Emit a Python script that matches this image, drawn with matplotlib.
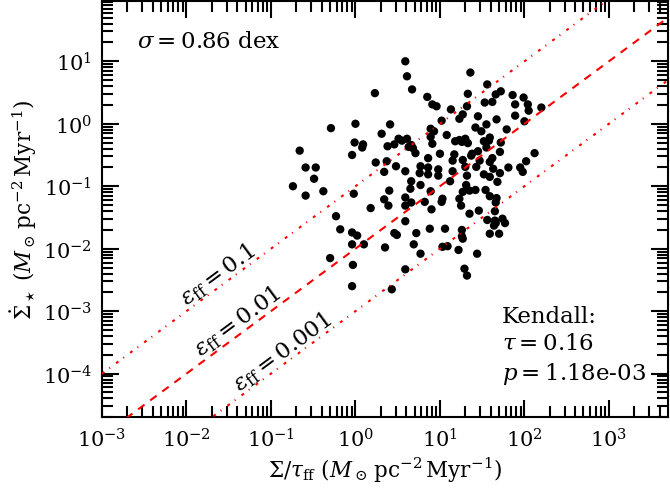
import numpy as np
import matplotlib
matplotlib.use('Agg')
import matplotlib.pyplot as plt
from matplotlib import ticker

plt.rcParams['font.family'] = 'DejaVu Serif'
plt.rcParams['mathtext.fontset'] = 'dejavuserif'

# log10 of Sigma/tau_ff and Sigma_dot_star for every region
log_sigma_tff = [
    0.23, -0.29, 0.00, -0.01, 0.09, 0.08, -0.04, 0.24, -0.66, -0.59,
    -0.47, -0.49, -0.74, -0.59, -0.38, -0.02, 0.18, -0.23, -0.18, -0.04,
    0.02, -0.04, 0.10, -0.30, -0.03, -0.04,
    0.59, 0.61, 0.67, 1.36, 0.85, 0.91, 0.96, 1.33, 1.13, 1.27,
    1.23, 1.32, 1.45, 0.41, 1.02, 0.31, 0.89, 0.93, 1.08, 1.42,
    0.51, 0.55, 0.61, 0.46, 0.38, 0.66, 0.63, 0.68, 0.89, 0.91,
    1.18, 1.23, 1.30, 1.33, 1.26, 0.71, 1.00, 1.17, 1.15, 1.27,
    1.38, 1.37, 1.45, 0.86, 0.37, 0.48, 0.34, 0.59, 0.77, 0.86,
    0.76, 0.86, 0.98, 0.98, 1.15, 1.30, 1.32, 1.43, 1.49, 1.52, 1.52,
    1.56, 1.72, 1.66, 1.53, 1.62, 1.86, 1.99, 1.89, 2.04, 2.05,
    2.20, 1.89, 1.67, 2.00, 1.55, 1.79, 1.59, 1.58, 1.72, 1.55,
    1.71, 2.12, 2.02, 1.62, 1.59, 1.47, 1.81, 1.95, 1.98, 1.63, 1.71,
    0.40, 0.65, 0.66, 0.77, 0.34, 0.39, 0.59, 0.59, 0.66, 0.82,
    0.89, 0.90, 1.03, 1.02, 1.12, 1.31, 1.27, 1.35, 1.42, 1.25,
    1.23, 1.35, 1.46, 0.59, 0.46, 0.49, 0.72, 0.88, 1.06, 1.26,
    1.26, 1.27, 0.35, 0.69, 1.03, 1.09, 1.22, 0.77, 1.44, 0.59,
    1.29, 1.32, 0.43,
    1.59, 1.68, 1.54, 1.59, 1.67, 1.66, 1.65, 1.56, 1.65, 1.66,
    1.64, 1.74, 1.77, 1.59, 1.70,
]
log_sfr = [
    0.49, -0.07, 0.00, -0.30, -0.33, -0.38, -0.50, -0.62, -0.43, -0.70,
    -0.70, -0.88, -1.00, -1.15, -1.08, -1.12, -1.35, -1.48, -1.69, -1.74,
    -1.79, -1.93, -1.93, -2.15, -2.26, -2.60,
    1.00, 0.76, 0.55, 0.82, 0.43, 0.31, 0.28, 0.48, 0.23, 0.15,
    0.08, 0.28, 0.12, -0.01, 0.05, -0.16, -0.08, -0.12, -0.18, -0.06,
    -0.24, -0.27, -0.24, -0.33, -0.36, -0.34, -0.37, -0.39, -0.21, -0.32,
    -0.28, -0.26, -0.24, -0.31, -0.29, -0.47, -0.48, -0.49, -0.59, -0.58,
    -0.48, -0.51, -0.44, -0.55, -0.60, -0.68, -0.77, -0.76, -0.68, -0.70,
    -0.79, -0.81, -0.73, -0.83, -0.76, -0.69, -0.83, -0.69, -0.12, -0.28, -0.81,
    0.63, 0.52, 0.47, 0.34, 0.35, 0.46, 0.42, 0.31, 0.31, 0.21,
    0.26, 0.13, 0.07, 0.04, -0.01, -0.09, -0.22, -0.27, -0.30, -0.38,
    -0.45, -0.47, -0.60, -0.55, -0.61, -0.59, -0.70, -0.70, -0.77, -0.72, -0.79,
    -1.07, -1.04, -0.92, -0.98, -1.21, -1.31, -1.18, -1.31, -1.26, -1.25,
    -1.08, -1.37, -1.20, -1.25, -0.92, -0.98, -1.09, -1.07, -1.06, -1.31,
    -1.20, -1.44, -1.39, -1.56, -1.75, -1.78, -1.75, -1.68, -1.68, -1.70,
    -1.80, -1.84, -1.98, -1.93, -1.97, -1.96, -2.02, -2.08, -2.08, -2.33,
    -2.32, -2.43, -2.65,
    -0.85, -0.93, -1.06, -1.16, -1.19, -1.26, -1.40, -1.54, -1.55, -1.59,
    -1.63, -1.52, -1.59, -1.76, -1.76,
]

eff_values = [0.1, 0.01, 0.001]
eff_labels = ['0.1', '0.01', '0.001']
sigma_dex = 0.86
kendall_tau = 0.16
kendall_p = '1.18e-03'

x = 10 ** np.array(log_sigma_tff)
y = 10 ** np.array(log_sfr)

fig = plt.figure(figsize=(6.7, 4.89), dpi=100)
ax = fig.add_axes([0.1522, 0.1446, 0.8448, 0.8523])

ax.set_xscale('log')
ax.set_yscale('log')
xlim = (1e-3, 5e3)
ylim = (2e-5, 94)
ax.set_xlim(xlim)
ax.set_ylim(ylim)

ax.scatter(x, y, s=36, c='k', edgecolors='none', zorder=2)

# constant efficiency per free-fall time lines
xx = np.logspace(np.log10(xlim[0]), np.log10(xlim[1]), 50)
styles = [(0, (1.4, 2.9, 0.5, 3.6)), (0, (3.8, 3.4)), (0, (1.4, 2.9, 0.5, 3.6))]
for eff, ls in zip(eff_values, styles):
    ax.plot(xx, eff * xx, color='r', lw=1.5, linestyle=ls, zorder=3)

# labels along the lines (slope on screen ~36.5 deg)
label_pos = [(10 ** -1.63, 10 ** -2.40), (10 ** -1.39, 10 ** -3.15), (10 ** -0.86, 10 ** -3.65)]
for (lx, ly), lab in zip(label_pos, eff_labels):
    ax.text(lx, ly, r'$\epsilon_{\rm ff} = %s$' % lab, rotation=36.5, rotation_mode='anchor',
            ha='center', va='center', fontsize=16.5)

ax.text(0.062, 0.888, r'$\sigma = %.2f\ \rm dex$' % sigma_dex,
        transform=ax.transAxes, fontsize=16.5, ha='left', va='baseline')

ax.text(0.707, 0.075, 'Kendall:\n' + r'$\tau = %.2f$' % kendall_tau + '\n' + r'$p = $' + kendall_p,
        transform=ax.transAxes, fontsize=16.5, ha='left', va='bottom', linespacing=1.3)

ax.set_xlabel(r'$\Sigma/\tau_{\rm ff}\ (M_\odot\,{\rm pc}^{-2}\,{\rm Myr}^{-1})$', fontsize=15.5, labelpad=3)
ax.set_ylabel(r'$\dot{\Sigma}_\star\ (M_\odot\,{\rm pc}^{-2}\,{\rm Myr}^{-1})$', fontsize=15.5, labelpad=3)

for side in ax.spines.values():
    side.set_linewidth(1.5)
ax.tick_params(which='both', direction='in', top=True, right=True, width=1.5, labelsize=15, pad=7)
ax.tick_params(which='major', length=12)
ax.tick_params(which='minor', length=8)

# only ticks inside the view
xmaj = [10.0 ** k for k in range(-3, 4)]
ymaj = [10.0 ** k for k in range(-4, 2)]
xmin = [m * 10.0 ** k for k in range(-3, 4) for m in range(2, 10) if m * 10.0 ** k < xlim[1]]
ymin = [m * 10.0 ** k for k in range(-5, 2) for m in range(2, 10) if ylim[0] <= m * 10.0 ** k < ylim[1]]
ax.xaxis.set_major_locator(ticker.FixedLocator(xmaj))
ax.yaxis.set_major_locator(ticker.FixedLocator(ymaj))
ax.xaxis.set_minor_locator(ticker.FixedLocator(xmin))
ax.yaxis.set_minor_locator(ticker.FixedLocator(ymin))
ax.xaxis.set_major_formatter(ticker.LogFormatterSciNotation())
ax.yaxis.set_major_formatter(ticker.LogFormatterSciNotation())
ax.xaxis.set_minor_formatter(ticker.NullFormatter())
ax.yaxis.set_minor_formatter(ticker.NullFormatter())

plt.savefig('out.png', dpi=100)
